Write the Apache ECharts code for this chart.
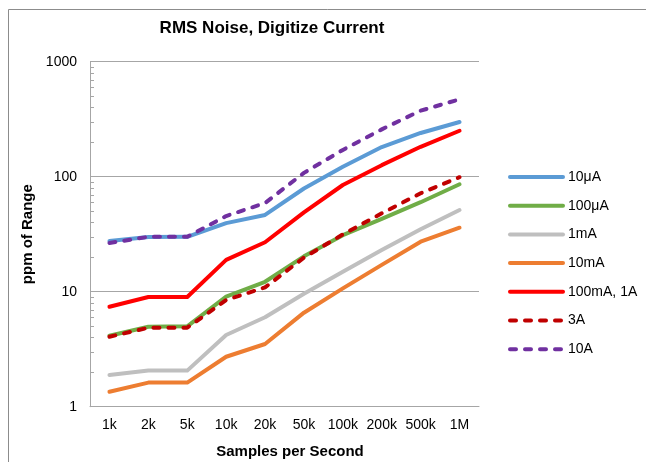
<!DOCTYPE html>
<html>
<head>
<meta charset="utf-8">
<script src="https://cdn.jsdelivr.net/npm/echarts@6/dist/echarts.min.js"></script>
<style>html,body{margin:0;padding:0;background:#fff;}#c{width:646px;height:462px;}</style>
</head>
<body>
<div id="c"></div>
<script>
const categories = ['1k','2k','5k','10k','20k','50k','100k','200k','500k','1M'];
const s10uA   = [27.6, 29.9, 30, 39.5, 46.5, 79, 122, 181, 240, 299];
const s100uA  = [4.14, 4.96, 5.0, 9.05, 12.2, 20.3, 31, 43, 60, 86];
const s1mA    = [1.89, 2.06, 2.06, 4.2, 6.0, 9.6, 14.9, 23, 34.9, 51.3];
const s10mA   = [1.35, 1.62, 1.62, 2.72, 3.51, 6.57, 10.7, 17.1, 27.2, 36];
const s100mA  = [7.4, 9.0, 9.0, 18.9, 26.9, 49, 84.7, 126, 182, 251];
const s3A     = [4.06, 4.86, 4.86, 8.47, 10.9, 19.8, 31.5, 48, 71.8, 99];
const s10A    = [26.5, 30, 30, 45.5, 59, 108, 171, 258, 375, 471];
const yTickLabels = ['1', '10', '100', '1000'];
const minorTickValues = [2,3,4,5,6,7,8,9,20,30,40,50,60,70,80,90,200,300,400,500,600,700,800,900];

const chart = echarts.init(document.getElementById('c'));
const font = '"Liberation Sans", Arial, Helvetica, sans-serif';
function solid(name, data, color) {
  return { name, type: 'line', data, symbol: 'none', z: 3,
    lineStyle: { color, width: 4, cap: 'round', join: 'round' }, itemStyle: { color } };
}
function dashed(name, data, color) {
  return { name, type: 'line', data, symbol: 'none', z: 4,
    lineStyle: { color, width: 4, type: [6, 9], cap: 'round', join: 'round' }, itemStyle: { color } };
}
chart.setOption({
  animation: false,
  backgroundColor: '#fff',
  textStyle: { fontFamily: font },
  title: { text: 'RMS Noise, Digitize Current', left: 267, top: 15, textAlign: 'center',
    textStyle: { fontSize: 17, fontWeight: 'bold', color: '#000', fontFamily: font } },
  graphic: [
    { type: 'rect', shape: { x: 8.5, y: 9.5, width: 700, height: 500 }, style: { fill: null, stroke: '#8c8c8c', lineWidth: 1 }, silent: true },
    { type: 'text', x: 290, y: 452, style: { text: 'Samples per Second', fontSize: 15, fontWeight: 'bold', fill: '#000', font: 'bold 15px ' + font, textAlign: 'center', textVerticalAlign: 'middle' } }
  ],
  grid: { left: 90, top: 61.7, right: 167, bottom: 55.3, containLabel: false },
  legend: {
    orient: 'vertical', left: 508, top: 170, padding: 0, itemWidth: 53, itemHeight: 14, itemGap: 14.7,
    textStyle: { fontSize: 14, color: '#000', fontFamily: font },
    itemStyle: { opacity: 0 },
    lineStyle: { width: 4, cap: 'round' },
    data: ['10μA','100μA','1mA','10mA','100mA, 1A','3A','10A']
  },
  xAxis: {
    type: 'category', data: categories, boundaryGap: true,
    axisLine: { lineStyle: { color: '#a6a6a6', width: 1 } },
    axisTick: { show: false },
    axisLabel: { fontSize: 14, color: '#000', margin: 11, interval: 0, fontFamily: font },
    splitLine: { show: false }
  },
  yAxis: {
    type: 'log', logBase: 10, min: 1, max: 1000,
    name: 'ppm of Range', nameLocation: 'middle', nameGap: 53,
    nameTextStyle: { fontSize: 15, fontWeight: 'bold', color: '#000', fontFamily: font },
    axisLine: { show: true, lineStyle: { color: '#a6a6a6', width: 1 } },
    axisTick: { show: false },
    axisLabel: { fontSize: 14, color: '#000', margin: 13, fontFamily: font,
      formatter: v => { const s = String(Math.round(v)); return yTickLabels.includes(s) ? s : ''; } },
    splitLine: { show: true, lineStyle: { color: '#a6a6a6', width: 1 } }
  },
  series: [
    solid('10μA', s10uA, '#5B9BD5'),
    solid('100μA', s100uA, '#70AD47'),
    solid('1mA', s1mA, '#BFBFBF'),
    solid('10mA', s10mA, '#ED7D31'),
    solid('100mA, 1A', s100mA, '#FF0000'),
    dashed('3A', s3A, '#C00000'),
    dashed('10A', s10A, '#7030A0'),
    { type: 'custom', silent: true, z: 2, data: minorTickValues.map(v => [0, v]),
      encode: { x: 0, y: 1 },
      renderItem: function (params, api) {
        const p = api.coord([0, api.value(1)]);
        const x0 = params.coordSys.x;
        return { type: 'line', shape: { x1: x0, y1: Math.round(p[1]) + 0.5, x2: x0 + 4, y2: Math.round(p[1]) + 0.5 },
          style: { stroke: '#a6a6a6', lineWidth: 1 } };
      }
    }
  ]
});
</script>
</body>
</html>
